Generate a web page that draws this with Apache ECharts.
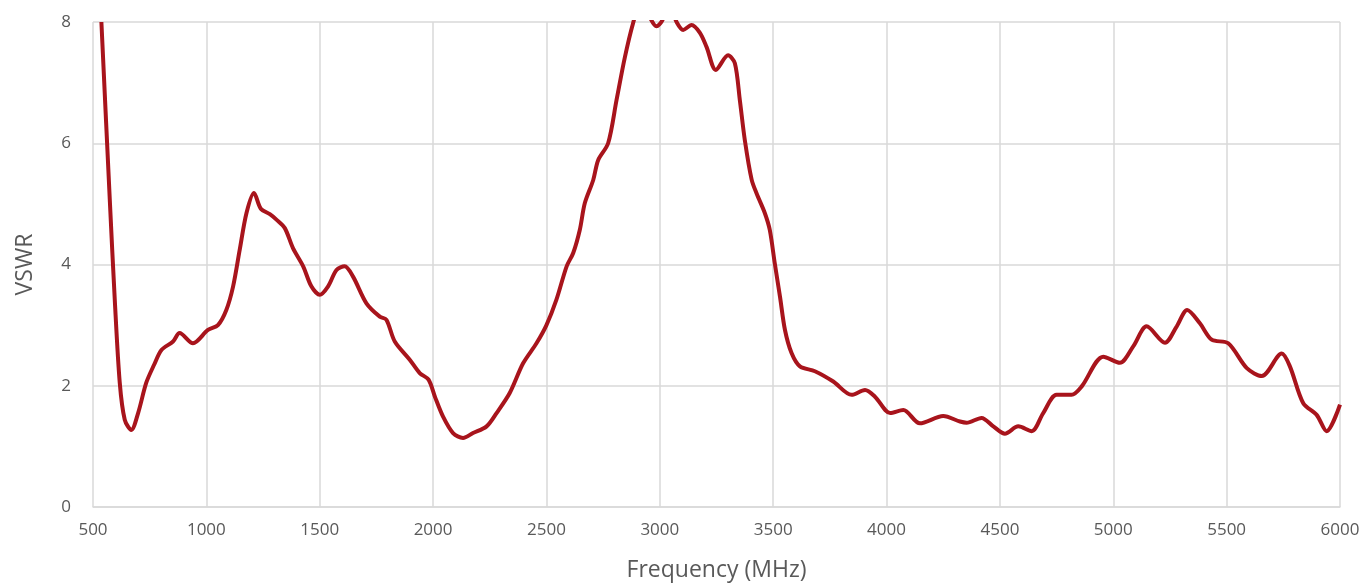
<!DOCTYPE html>
<html>
<head>
<meta charset="utf-8">
<script src="https://cdn.jsdelivr.net/npm/echarts@6/dist/echarts.min.js"></script>
<style>
html,body{margin:0;padding:0;background:#fff;}
#chart{width:1370px;height:588px;}
</style>
</head>
<body>
<div id="chart"></div>
<script>
const freqMHz = [537,574,596,618,640,669,699,735,770,802,853,882,941,1007,1051,1088,1118,1147,1177,1210,1240,1280,1309,1346,1382,1427,1463,1500,1537,1574,1610,1647,1706,1765,1794,1831,1897,1941,1980,2008,2044,2088,2132,2176,2236,2280,2338,2397,2456,2500,2544,2589,2618,2647,2669,2706,2728,2772,2809,2846,2882,2920,2960,2985,3010,3040,3074,3103,3140,3177,3206,3247,3301,3331,3353,3375,3405,3427,3463,3485,3507,3530,3552,3581,3618,3684,3765,3846,3905,3949,4016,4074,4147,4250,4324,4353,4419,4471,4522,4581,4640,4691,4750,4816,4861,4956,5029,5088,5147,5228,5280,5326,5382,5434,5507,5589,5655,5743,5779,5838,5897,5941,6000];
const vswr = [8.0,5.07,3.42,2.05,1.44,1.27,1.55,2.05,2.35,2.59,2.73,2.87,2.70,2.92,3.0,3.25,3.64,4.24,4.85,5.18,4.92,4.83,4.74,4.6,4.27,3.97,3.64,3.5,3.64,3.91,3.97,3.80,3.36,3.14,3.09,2.73,2.43,2.21,2.10,1.82,1.49,1.22,1.14,1.22,1.33,1.55,1.88,2.37,2.70,3.0,3.42,3.97,4.19,4.57,5.01,5.39,5.72,6.0,6.71,7.42,7.98,8.4,8.05,7.93,8.02,8.3,8.0,7.87,7.95,7.82,7.59,7.21,7.45,7.32,6.71,6.05,5.4,5.17,4.85,4.57,4.02,3.47,2.92,2.54,2.32,2.24,2.07,1.85,1.93,1.82,1.55,1.60,1.38,1.50,1.41,1.39,1.47,1.33,1.21,1.33,1.25,1.55,1.85,1.85,1.99,2.48,2.38,2.65,2.98,2.71,2.98,3.25,3.03,2.76,2.70,2.29,2.16,2.53,2.32,1.71,1.52,1.25,1.69];
const xTitle = 'Frequency (MHz)';
const yTitle = 'VSWR';

const chart = echarts.init(document.getElementById('chart'));
const labelColor = '#595959';
const gridColor = '#d9d9d9';
const font = '"Open Sans", "Noto Sans", sans-serif';
chart.setOption({
  animation: false,
  grid: {left: 93, right: 30, top: 22, bottom: 81},
  xAxis: {
    type: 'value', min: 500, max: 6000, interval: 500,
    name: xTitle, nameLocation: 'middle', nameGap: 52,
    nameTextStyle: {color: labelColor, fontSize: 23, fontFamily: font},
    axisLine: {show: true, lineStyle: {color: gridColor, width: 1.5}},
    axisTick: {show: false},
    axisLabel: {color: labelColor, fontSize: 17, fontFamily: font, margin: 15, formatter: v => String(v)},
    splitLine: {show: true, lineStyle: {color: gridColor, width: 1.5}}
  },
  yAxis: {
    type: 'value', min: 0, max: 8, interval: 2,
    name: yTitle, nameLocation: 'middle', nameGap: 56,
    nameTextStyle: {color: labelColor, fontSize: 23, fontFamily: font},
    axisLine: {show: false},
    axisTick: {show: false},
    axisLabel: {color: labelColor, fontSize: 17, fontFamily: font, margin: 22},
    splitLine: {show: true, lineStyle: {color: gridColor, width: 1.5}}
  },
  series: [{
    type: 'line',
    data: freqMHz.map((f, i) => [f, vswr[i]]),
    smooth: 0.3,
    showSymbol: false,
    clip: true,
    lineStyle: {color: '#A8141C', width: 4},
    itemStyle: {color: '#A8141C'}
  }]
});
</script>
</body>
</html>
